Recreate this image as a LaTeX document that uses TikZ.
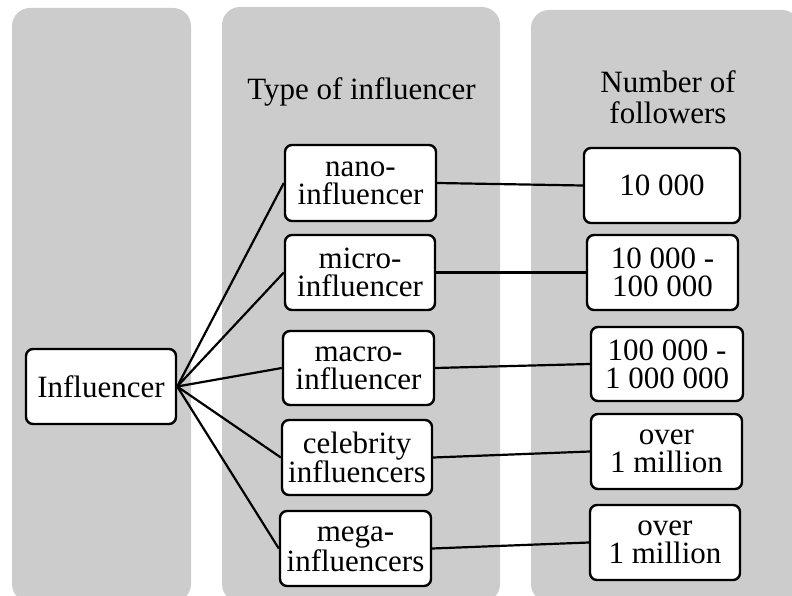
\documentclass[tikz,border=0pt]{standalone}
\usepackage{fontspec}
\setmainfont{Liberation Serif}
\definecolor{panelgray}{RGB}{204,204,204}
\begin{document}
\begin{tikzpicture}[x=1pt,y=-1pt,
  panel/.style={fill=panelgray, draw=none, rounded corners=18pt},
  box/.style={draw=black, line width=2.4pt, fill=white, rounded corners=7pt,
    align=center, inner sep=0pt, minimum height=75pt,
    font=\fontsize{31}{28}\selectfont},
  header/.style={align=center, inner sep=0pt, font=\fontsize{31}{31}\selectfont},
  link/.style={line width=2.2pt, draw=black}]
\useasboundingbox (0,0) rectangle (792,596);
\clip (0,0) rectangle (792,596);
% panels
\fill[panel] (12,8) rectangle (191,602);
\fill[panel] (222,7) rectangle (500,602);
\fill[panel] (531,10) rectangle (800,602);
% headers
\node[header, anchor=base] (h2) at (361.5,100) {Type of influencer};
\node[header, anchor=north] (h3) at (668,70) {Number of\\followers};
% nodes
\node[box, minimum width=150pt] (inf) at (101,386.5) {Influencer};
\node[box, minimum width=151pt, minimum height=76pt] (nano) at (360.5,183) {nano-\\influencer};
\node[box, minimum width=150pt] (micro) at (360,272.5) {micro-\\influencer};
\node[box, minimum width=151pt, minimum height=74pt] (macro) at (358.5,368) {macro-\\influencer};
\node[box, minimum width=150pt] (celeb) at (357,457.5) {celebrity\\influencers};
\node[box, minimum width=151pt] (mega) at (355.5,548.5) {mega-\\influencers};
\node[box, minimum width=156pt] (f1) at (662,185.5) {10 000};
\node[box, minimum width=151pt] (f2) at (662.5,272.5) {10 000 -\\100 000};
\node[box, minimum width=152pt, minimum height=74pt] (f3) at (667,364) {100 000 -\\1 000 000};
\node[box, minimum width=151pt] (f4) at (666.5,451.5) {over\\1 million};
\node[box, minimum width=150pt] (f5) at (665,542.5) {over\\1 million};
% connectors
\foreach \n in {nano,micro,macro,celeb,mega}
  \draw[link] (inf.east) -- (\n.west);
\draw[link] (nano.east) -- (f1.west);
\draw[link] (micro.east) -- (f2.west);
\draw[link] (macro.east) -- (f3.west);
\draw[link] (celeb.east) -- (f4.west);
\draw[link] (mega.east) -- (f5.west);
\end{tikzpicture}
\end{document}
